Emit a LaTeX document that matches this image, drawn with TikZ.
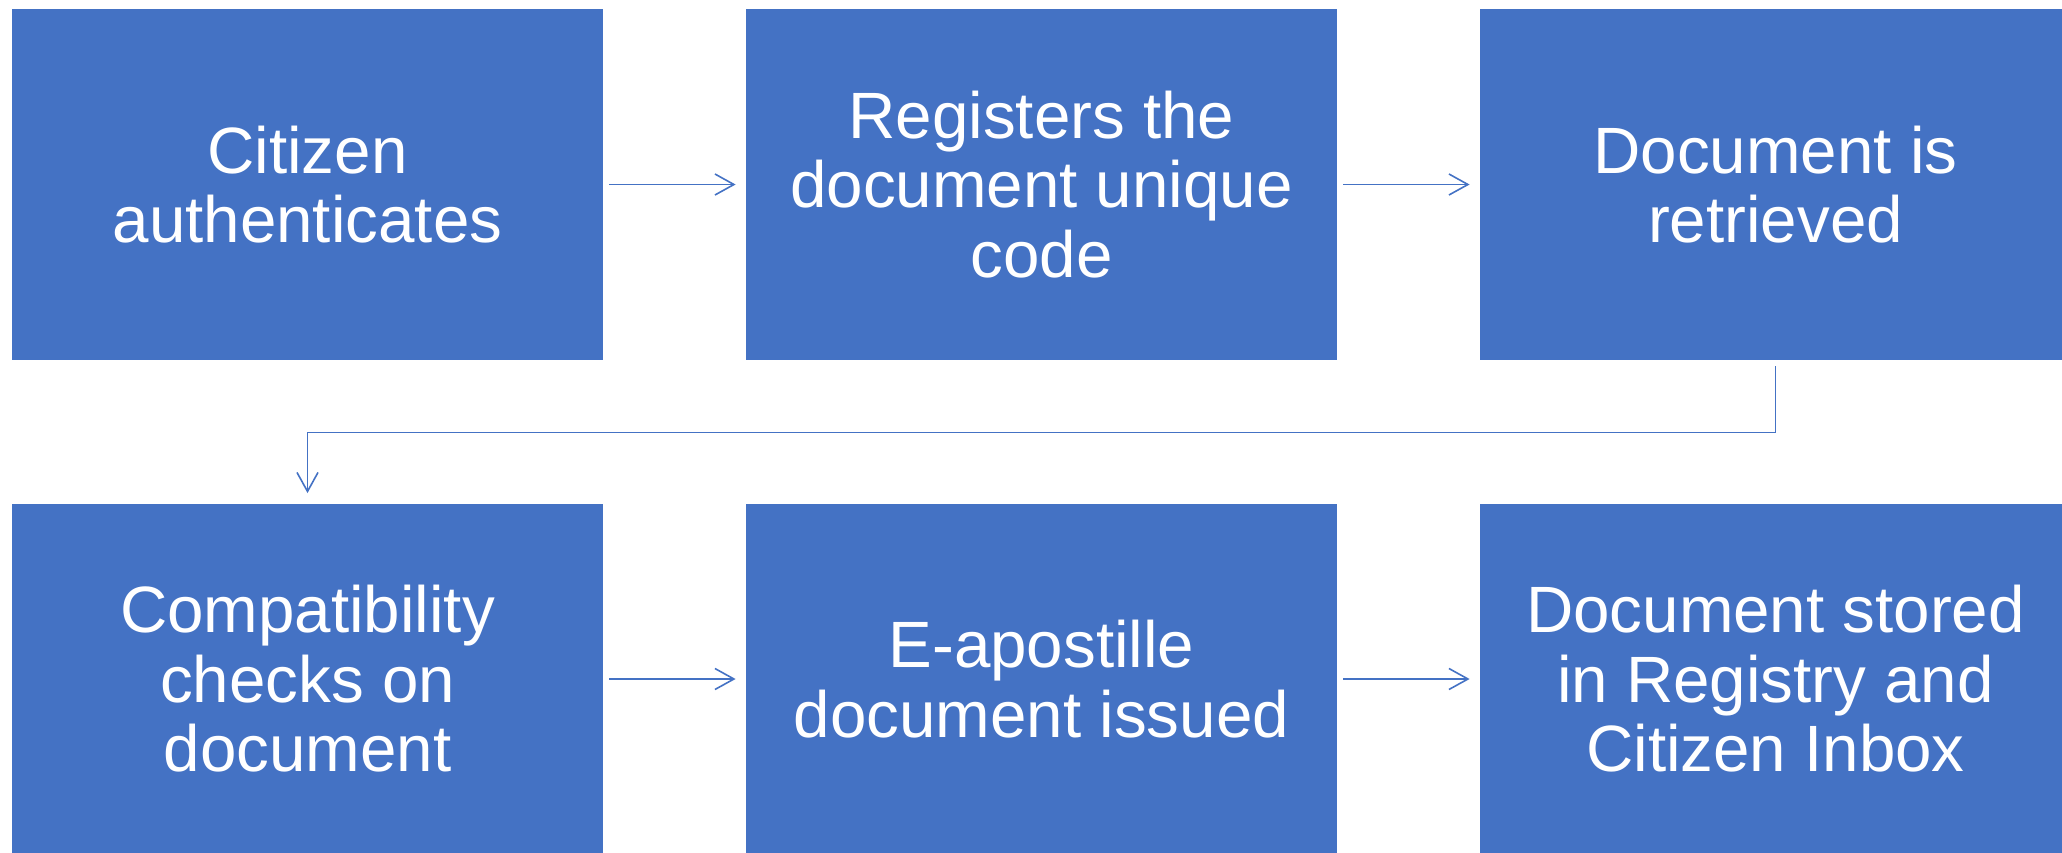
\documentclass[tikz,border=0pt]{standalone}
\usepackage{fontspec}
\setmainfont{Liberation Sans}
\usetikzlibrary{arrows.meta}
\definecolor{boxblue}{RGB}{68,114,196}
\tikzset{
  stepbox/.style={fill=boxblue, draw=none, inner sep=0pt, minimum width=295.5pt, minimum height=175.5pt,
    text=white, align=center, font=\fontsize{32.75pt}{34.75pt}\selectfont},
  conn/.style={draw=boxblue, line width=0.8pt, -{Straight Barb[length=9.5pt,width=10.5pt,line width=0.8pt]}}
}
\begin{document}
\begin{tikzpicture}[x=0.5pt,y=-0.5pt]
\useasboundingbox (0,0) rectangle (2062,852);
\node[stepbox] (b1) at (307.5,184.5) {Citizen\\authenticates};
\node[stepbox] (b2) at (1041.5,184.5) {Registers the\\document unique\\code};
\node[stepbox] (b3) at (1775.5,184.5) {Document is\\retrieved};
\node[stepbox] (b4) at (307.5,679) {Compatibility\\checks on\\document};
\node[stepbox] (b5) at (1041.5,679) {E-apostille\\document issued};
\node[stepbox] (b6) at (1775.5,679) {Document stored\\in Registry and\\Citizen Inbox};
\draw[conn] ([xshift=3pt]b1.east) -- ([xshift=-5pt]b2.west);
\draw[conn] ([xshift=3pt]b2.east) -- ([xshift=-5pt]b3.west);
\draw[conn] ([xshift=3pt]b4.east) -- ([xshift=-5pt]b5.west);
\draw[conn] ([xshift=3pt]b5.east) -- ([xshift=-5pt]b6.west);
\draw[conn] ([yshift=-3pt]b3.south) -- ++(0,66) -| ([yshift=5pt]b4.north);
\end{tikzpicture}
\end{document}
